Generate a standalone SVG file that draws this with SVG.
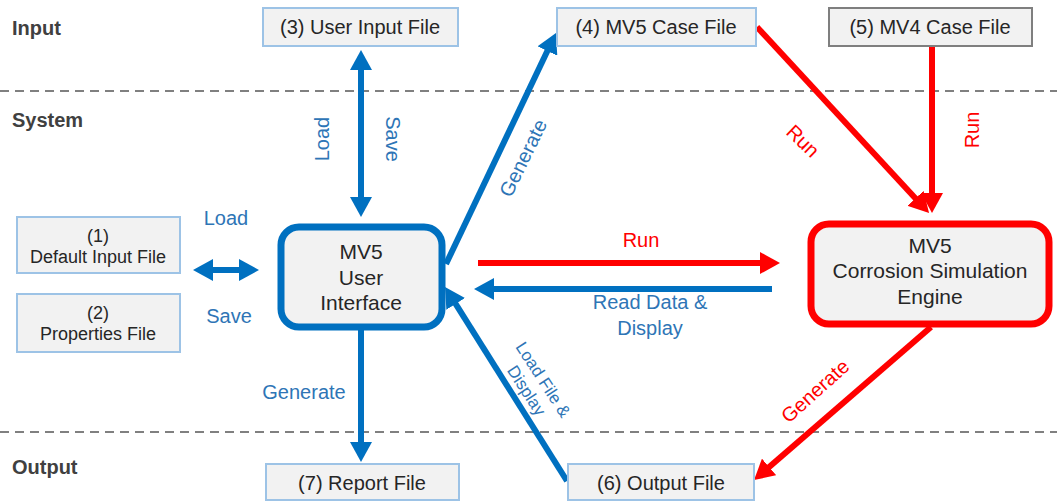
<svg xmlns="http://www.w3.org/2000/svg" width="1057" height="502" viewBox="0 0 1057 502">
<style>
.sec{font-family:"Liberation Sans",Arial,sans-serif;font-size:20px;font-weight:bold;fill:#404040}
.box{fill:#f2f2f2;stroke:#9dc3e6;stroke-width:2}
.gbox{fill:#f2f2f2;stroke:#7f7f7f;stroke-width:2}
.t{font-family:"Liberation Sans",Arial,sans-serif;font-size:20px;fill:#262626;text-anchor:middle}
.ts{font-family:"Liberation Sans",Arial,sans-serif;font-size:18px;fill:#262626;text-anchor:middle}
.tn{font-family:"Liberation Sans",Arial,sans-serif;font-size:21px;fill:#262626;text-anchor:middle}
.lb{font-family:"Liberation Sans",Arial,sans-serif;font-size:20px;fill:#2e75b6;text-anchor:middle}
.lr{font-family:"Liberation Sans",Arial,sans-serif;font-size:20px;fill:#ff0000;text-anchor:middle}
.bl{stroke:#0070c0;stroke-width:6;fill:none}
.rd{stroke:#ff0000;stroke-width:6;fill:none}
.dash{stroke:#808080;stroke-width:2;stroke-dasharray:9,6}
</style>
<defs>
<marker id="ab" markerUnits="userSpaceOnUse" markerWidth="20" markerHeight="22" viewBox="0 0 20 22" refX="8" refY="11" orient="auto-start-reverse"><path d="M0,0 L20,11 L0,22 z" fill="#0070c0"/></marker>
<marker id="ar" markerUnits="userSpaceOnUse" markerWidth="20" markerHeight="22" viewBox="0 0 20 22" refX="8" refY="11" orient="auto-start-reverse"><path d="M0,0 L20,11 L0,22 z" fill="#ff0000"/></marker>
</defs>
<rect width="1057" height="502" fill="#ffffff"/>
<g id="lanes">
<line class="dash" x1="0" y1="91" x2="1057" y2="91"/>
<line class="dash" x1="0" y1="432" x2="1057" y2="432"/>
<text class="sec" x="12" y="35">Input</text>
<text class="sec" x="12" y="127">System</text>
<text class="sec" x="12" y="474">Output</text>
</g>
<g id="connectors">
<line class="bl" x1="205" y1="270" x2="247" y2="270" marker-start="url(#ab)" marker-end="url(#ab)"/>
<line class="bl" x1="361" y1="62" x2="361" y2="205" marker-start="url(#ab)" marker-end="url(#ab)"/>
<line class="bl" x1="361" y1="330" x2="361" y2="450" marker-end="url(#ab)"/>
<line class="bl" x1="446" y1="264" x2="550.8" y2="43.8" marker-end="url(#ab)"/>
<line class="bl" x1="567" y1="481" x2="451.4" y2="297.2" marker-end="url(#ab)"/>
<line class="rd" x1="478" y1="263" x2="768" y2="263" marker-end="url(#ar)"/>
<line class="bl" x1="772" y1="289" x2="486" y2="289" marker-end="url(#ab)"/>
<line class="rd" x1="757" y1="27" x2="920.9" y2="204.2" marker-end="url(#ar)"/>
<line class="rd" x1="932" y1="46" x2="932" y2="201" marker-end="url(#ar)"/>
<line class="rd" x1="931" y1="327" x2="763.1" y2="472.2" marker-end="url(#ar)"/>
<text class="lb" x="226" y="225">Load</text>
<text class="lb" x="229" y="323">Save</text>
<text class="lb" transform="translate(322,139) rotate(-90)" y="7">Load</text>
<text class="lb" transform="translate(393,139) rotate(90)" y="7">Save</text>
<text class="lb" transform="translate(523,158) rotate(-64)" y="7">Generate</text>
<text class="lb" x="304" y="399">Generate</text>
<text class="lr" x="641" y="247">Run</text>
<text class="lb" x="650" y="309">Read Data &amp;</text>
<text class="lb" x="650" y="335">Display</text>
<g transform="translate(535,385) rotate(57)">
<text class="lb" style="font-size:17px" x="0" y="-4">Load File &amp;</text>
<text class="lb" style="font-size:17px" x="0" y="16">Display</text>
</g>
<text class="lr" transform="translate(803,141) rotate(44)" y="7">Run</text>
<text class="lr" transform="translate(972,130) rotate(-90)" y="7">Run</text>
<text class="lr" transform="translate(815,391) rotate(-42)" y="7">Generate</text>
</g>
<g id="n3"><rect class="box" x="263" y="8" width="195" height="38"/><text class="t" x="360" y="34">(3) User Input File</text></g>
<g id="n4"><rect class="box" x="557" y="8" width="199" height="38"/><text class="t" x="656" y="34">(4) MV5 Case File</text></g>
<g id="n5"><rect class="gbox" x="829" y="8" width="203" height="38"/><text class="t" x="930" y="34">(5) MV4 Case File</text></g>
<g id="n1"><rect class="box" x="17" y="217" width="163" height="56"/><text class="ts" x="98" y="242">(1)</text><text class="ts" x="98" y="263">Default Input File</text></g>
<g id="n2"><rect class="box" x="17" y="294" width="163" height="58"/><text class="ts" x="98" y="319">(2)</text><text class="ts" x="98" y="340">Properties File</text></g>
<g id="ui"><rect x="281" y="227" width="161" height="100" rx="18" fill="#f2f2f2" stroke="#0070c0" stroke-width="7"/><text class="tn" x="361" y="259">MV5</text><text class="tn" x="361" y="285">User</text><text class="tn" x="361" y="310">Interface</text></g>
<g id="engine"><rect x="811" y="224" width="238" height="100" rx="18" fill="#f2f2f2" stroke="#ff0000" stroke-width="7"/><text class="tn" x="930" y="253">MV5</text><text class="tn" x="930" y="278">Corrosion Simulation</text><text class="tn" x="930" y="304">Engine</text></g>
<g id="n7"><rect class="box" x="266" y="464" width="193" height="36"/><text class="t" x="362" y="490">(7) Report File</text></g>
<g id="n6"><rect class="box" x="568" y="464" width="186" height="36"/><text class="t" x="661" y="490">(6) Output File</text></g>
</svg>
